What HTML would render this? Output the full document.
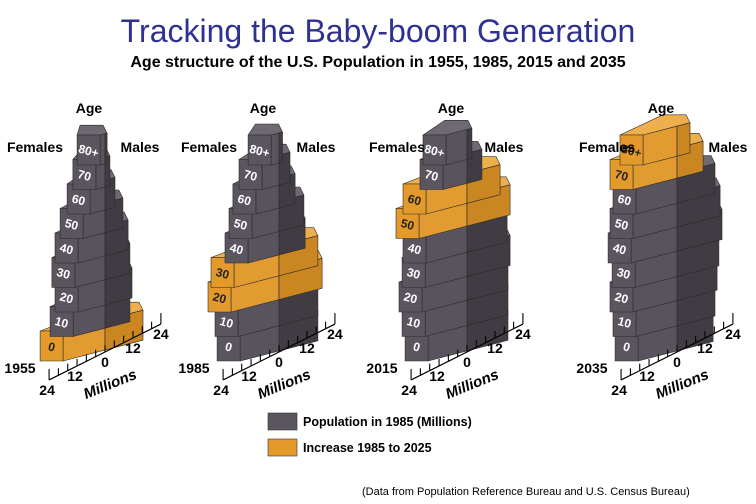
<!DOCTYPE html>
<html><head><meta charset="utf-8"><style>
html,body{margin:0;padding:0;background:#fff;}
svg{display:block;font-family:"Liberation Sans",Arial,sans-serif;}
</style></head><body>
<svg id="chart" width="756" height="504" viewBox="0 0 756 504" xmlns="http://www.w3.org/2000/svg">
<text x="378" y="42" text-anchor="middle" font-size="32" fill="#2e3192">Tracking the Baby-boom Generation</text>
<text x="378" y="67" text-anchor="middle" font-size="16" font-weight="bold" fill="#000">Age structure of the U.S. Population in 1955, 1985, 2015 and 2035</text>
<g id="panels"></g>
<rect x="268" y="413" width="29" height="17" fill="#5b5560" stroke="#333" stroke-width="0.6"/>
<text x="303" y="426" font-size="12.5" font-weight="bold">Population in 1985 (Millions)</text>
<rect x="268" y="439" width="29" height="17" fill="#e39a2b" stroke="#333" stroke-width="0.6"/>
<text x="303" y="452" font-size="12.5" font-weight="bold">Increase 1985 to 2025</text>
<text x="362" y="495" font-size="11">(Data from Population Reference Bureau and U.S. Census Bureau)</text>
</svg>
<script>
const years = ["1955", "1985", "2015", "2035"];
const ageLabels = ["0", "10", "20", "30", "40", "50", "60", "70", "80+"];
const female1955 = [18, 13.7, 11.6, 12.9, 11.6, 9.4, 6.4, 3.9, 2.1];
const male1955 = [16.3, 10.7, 11.6, 10.7, 9.9, 7.7, 4.3, 2.1, 0.9];
const boom1955 = [1, 0, 0, 0, 0, 0, 0, 0, 0];
const female1985 = [16.7, 17.6, 20.6, 19.3, 13.3, 11.6, 9.9, 7.3, 3.4];
const male1985 = [16.7, 16.7, 18.5, 16.7, 11.2, 10.7, 6.9, 4.7, 1.5];
const boom1985 = [0, 0, 1, 1, 0, 0, 0, 0, 0];
const female2015 = [16.7, 18, 19.3, 18, 17.6, 20.6, 17.6, 10.3, 9.0];
const male2015 = [17.6, 17.6, 17.6, 18.5, 17.2, 18.5, 14.2, 6.4, 2.1];
const boom2015 = [0, 0, 0, 0, 0, 1, 1, 0, 0];
const female2035 = [16.7, 17.6, 18.9, 18, 19.7, 18.9, 17.6, 18.9, 14.6];
const male2035 = [15.5, 16.3, 17.2, 18, 19.3, 18.5, 16.3, 11.2, 5.6];
const boom2035 = [0, 0, 0, 0, 0, 0, 0, 1, 1];
const axisTicks = ["24", "12", "0", "12", "24"];
const axisTickValues = [-24, -12, 0, 12, 24];

const femaleData = [female1955, female1985, female2015, female2035];
const maleData = [male1955, male1985, male2015, male2035];
const boomData = [boom1955, boom1985, boom2015, boom2035];
const splitX = [105, 279, 467, 677];
const malesOffset = [35, 37, 37, 51];

const NS = "http://www.w3.org/2000/svg";
const UX = 2.33, DEPTH = 23, SLOPE = 0.26, BASE = 361, STEP = 24.5, FH = 30, TOPH = 8;
const gray = {front:"#5b5560", top:"#6f6973", lf:"#59535d", lm:"#413c44", txt:"#fff"};
const orange = {front:"#e39a2b", top:"#eeb04e", lf:"#e19b30", lm:"#c98621", txt:"#222"};
const root = document.getElementById("panels");

function xv(xs, v){ return xs + v * UX; }
function mk(tag, attrs, parent){
  const e = document.createElementNS(NS, tag);
  for (const k in attrs) e.setAttribute(k, attrs[k]);
  parent.appendChild(e); return e;
}
function pts(a){ return a.map(p => p[0].toFixed(1) + "," + p[1].toFixed(1)).join(" "); }

years.forEach((yr, p) => {
  const xs = splitX[p];
  const g = mk("g", {}, root);
  
  
  for (let k = 0; k < ageLabels.length; k++) {
    const F = femaleData[p][k], M = maleData[p][k];
    const c = boomData[p][k] ? orange : gray;
    const x1 = xv(xs, -F), x0 = x1 - DEPTH, x2 = xv(xs, M);
    const yb = BASE - k * STEP, yt = yb - FH;
    const L = x2 - x1, Ls = (xs - x1);
    const slab = mk("g", {}, g);
    
    
    const st = {stroke:"#2b2b2b", "stroke-width":"0.6", "stroke-linejoin":"round"};
    const top = mk("polygon", Object.assign({points: pts([[x0,yt],[x1,yt],[x2,yt-L*SLOPE],[x2-4,yt-L*SLOPE-TOPH],[x0+L-4,yt-L*SLOPE-TOPH]]), fill:c.top}, st), slab);
    
    
    const lf = mk("polygon", Object.assign({points: pts([[x1,yt],[xs,yt-Ls*SLOPE],[xs,yb-Ls*SLOPE],[x1,yb]]), fill:c.lf}, st), slab);
    
    
    const lm = mk("polygon", Object.assign({points: pts([[xs,yt-Ls*SLOPE],[x2,yt-L*SLOPE],[x2,yb-L*SLOPE],[xs,yb-Ls*SLOPE]]), fill:c.lm}, st), slab);
    
    
    const fr = mk("polygon", Object.assign({points: pts([[x0,yt],[x1,yt],[x1,yb],[x0,yb]]), fill:c.front}, st), slab);
    
    
    const cx = x0 + DEPTH/2, cy = yt + FH/2 + 5;
    const t = mk("text", {x:cx.toFixed(1), y:cy.toFixed(1), "text-anchor":"middle", "font-size":"12", "font-weight":"bold", fill:c.txt, transform:"rotate(15 "+cx.toFixed(1)+" "+(cy-4).toFixed(1)+")"}, slab);
    
    
    t.textContent = ageLabels[k];
  }
  const age = mk("text", {x:xs-16, y:113, "text-anchor":"middle", "font-size":"14", "font-weight":"bold"}, g);
  
  
  age.textContent = "Age";
  const fe = mk("text", {x:xs-70, y:152, "text-anchor":"middle", "font-size":"14", "font-weight":"bold"}, g);
  
  
  fe.textContent = "Females";
  const ma = mk("text", {x:xs+malesOffset[p], y:152, "text-anchor":"middle", "font-size":"14", "font-weight":"bold"}, g);
  
  
  ma.textContent = "Males";
  const yl = mk("text", {x:xs-85, y:373, "text-anchor":"middle", "font-size":"14", "font-weight":"bold"}, g);
  
  
  yl.textContent = yr;
  const ay = v => 352 - v * UX * 0.5;
  const ax = mk("g", {}, g);
  
  
  mk("line", {x1:xv(xs,-24), y1:ay(-24), x2:xv(xs,24), y2:ay(24), stroke:"#000", "stroke-width":"1.2"}, ax);
  for (let v = -24; v <= 24; v += 4) {
    const h = Math.abs(v) === 24 ? 11 : 7;
    mk("line", {x1:xv(xs,v), y1:ay(v), x2:xv(xs,v), y2:ay(v)-h, stroke:"#000", "stroke-width":"1.1"}, ax);
  }
  axisTickValues.forEach((v, i) => {
    const tl = mk("text", {x:xv(xs,v)+(v<0?-2:0), y:ay(v)+15, "text-anchor":"middle", "font-size":"14", "font-weight":"bold"}, ax);
    
    
    tl.textContent = axisTicks[i];
  });
  const mt = mk("text", {x:xs+5, y:389, "text-anchor":"middle", "font-size":"15", "font-weight":"bold", "font-style":"italic", transform:"rotate(-22 "+(xs+5)+" 384)"}, ax);
  
  
  mt.textContent = "Millions";
});
</script>
</body></html>
